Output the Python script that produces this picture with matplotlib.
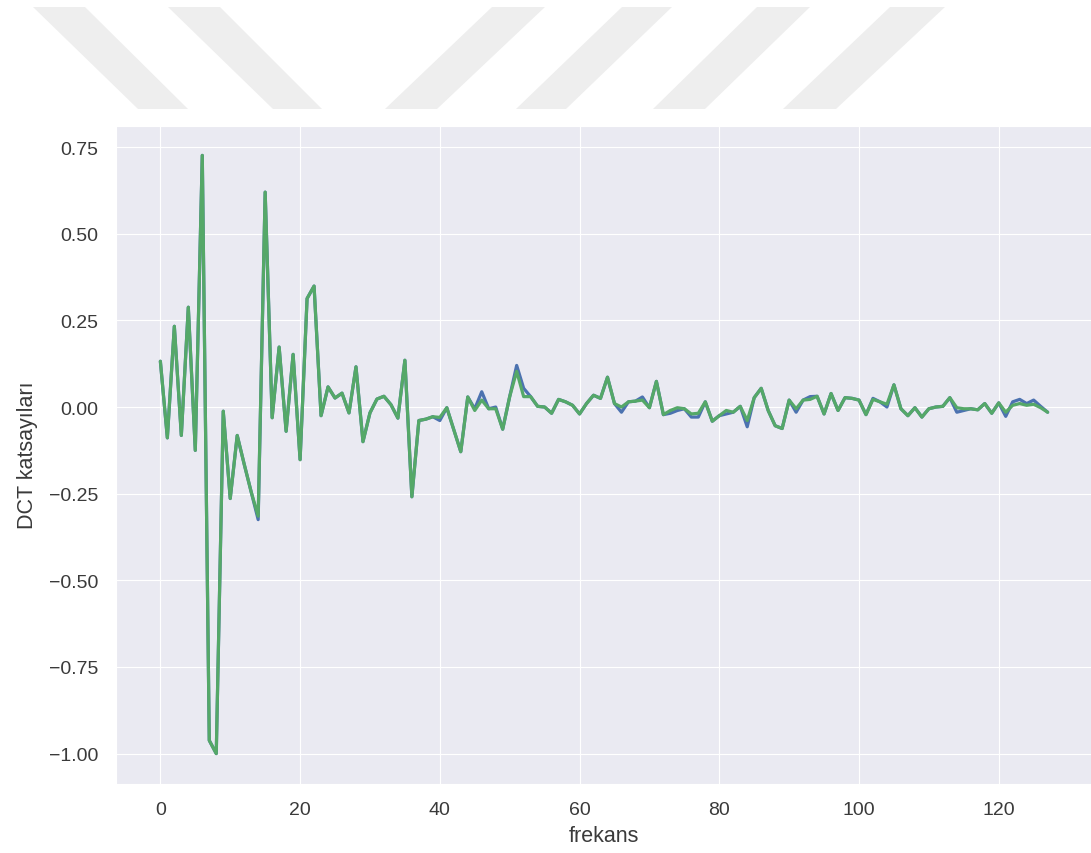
import matplotlib
matplotlib.use('Agg')
import matplotlib.pyplot as plt
import seaborn as sns
from matplotlib.patches import Polygon

# DCT coefficients (two nearly identical series)
frekans = list(range(128))
dct_blue = [
    0.132, -0.089, 0.233, -0.082, 0.288, -0.125, 0.726, -0.962, -1.0, -0.012,
    -0.264, -0.082, -0.165, -0.245, -0.325, 0.62, -0.031, 0.173, -0.07, 0.152,
    -0.152, 0.313, 0.349, -0.025, 0.058, 0.026, 0.04, -0.017, 0.116, -0.1,
    -0.017, 0.023, 0.031, 0.007, -0.032, 0.135, -0.259, -0.039, -0.035, -0.028,
    -0.039, -0.002, -0.066, -0.129, 0.029, -0.005, 0.044, -0.005, 0.0, -0.064,
    0.03, 0.12, 0.054, 0.03, 0.002, 0.0, -0.018, 0.022, 0.015, 0.005,
    -0.02, 0.01, 0.034, 0.025, 0.086, 0.01, -0.015, 0.015, 0.017, 0.029,
    -0.002, 0.074, -0.022, -0.018, -0.01, -0.005, -0.029, -0.029, 0.015, -0.041,
    -0.025, -0.02, -0.015, 0.002, -0.057, 0.027, 0.054, -0.01, -0.054, -0.062,
    0.02, -0.015, 0.02, 0.03, 0.031, -0.02, 0.039, -0.01, 0.027, 0.025,
    0.02, -0.022, 0.025, 0.015, 0.0, 0.064, -0.005, -0.025, -0.002, -0.029,
    -0.005, 0.0, 0.002, 0.027, -0.015, -0.01, -0.005, -0.008, 0.01, -0.018,
    0.012, -0.027, 0.015, 0.022, 0.01, 0.02, 0.002, -0.015,
]
dct_green = [
    0.132, -0.089, 0.233, -0.082, 0.288, -0.125, 0.726, -0.962, -1.0, -0.012,
    -0.264, -0.082, -0.165, -0.245, -0.315, 0.62, -0.031, 0.173, -0.07, 0.152,
    -0.152, 0.313, 0.349, -0.025, 0.058, 0.026, 0.04, -0.017, 0.116, -0.1,
    -0.017, 0.023, 0.031, 0.007, -0.032, 0.135, -0.259, -0.039, -0.035, -0.028,
    -0.03, -0.002, -0.066, -0.129, 0.029, -0.01, 0.02, -0.005, -0.005, -0.064,
    0.03, 0.103, 0.03, 0.03, 0.002, 0.0, -0.018, 0.022, 0.015, 0.005,
    -0.02, 0.01, 0.034, 0.025, 0.086, 0.01, 0.0, 0.015, 0.017, 0.02,
    -0.002, 0.074, -0.022, -0.01, -0.002, -0.005, -0.02, -0.018, 0.015, -0.041,
    -0.025, -0.01, -0.015, 0.002, -0.039, 0.027, 0.054, -0.01, -0.054, -0.062,
    0.02, -0.005, 0.02, 0.022, 0.031, -0.02, 0.039, -0.01, 0.027, 0.025,
    0.02, -0.022, 0.022, 0.015, 0.008, 0.064, -0.005, -0.025, -0.002, -0.029,
    -0.005, 0.0, 0.002, 0.027, -0.002, -0.005, -0.005, -0.008, 0.01, -0.018,
    0.012, -0.015, 0.005, 0.01, 0.005, 0.008, -0.002, -0.015,
]

sns.set_style('darkgrid', {'grid.linewidth': 1.4})
plt.rcParams['font.family'] = ['Liberation Sans', 'DejaVu Sans']

fig = plt.figure(figsize=(10.91, 8.54), dpi=100)

# watermark stripes across the top of the page (pixel coords, y from top)
W, H = 1091.0, 854.0
stripes = [
    [(33, 8), (85, 8), (188, 110), (138, 110)],
    [(168, 8), (220, 8), (322, 110), (273, 110)],
    [(492, 8), (545, 8), (437, 110), (385, 110)],
    [(622, 8), (672, 8), (566, 110), (516, 110)],
    [(757, 8), (810, 8), (705, 110), (653, 110)],
    [(890, 8), (945, 8), (836, 110), (783, 110)],
]
for s in stripes:
    pts = [(x / W, 1 - y / H) for x, y in s]
    fig.patches.append(Polygon(pts, closed=True, transform=fig.transFigure,
                               facecolor='#eeeeee', edgecolor='none'))

ax = fig.add_axes([116 / W, 1 - 784.5 / H, (1092 - 116) / W, (784.5 - 126.5) / H])
ax.plot(frekans, dct_blue, color='#4C72B0', linewidth=2.3)
ax.plot(frekans, dct_green, color='#55A868', linewidth=2.3)

ax.set_xlabel('frekans', fontsize=15.5, color='#3a3a3a', labelpad=5)
ax.set_ylabel('DCT katsayıları', fontsize=15.5, color='#3a3a3a', labelpad=8)
ax.tick_params(labelsize=14, colors='#3a3a3a', pad=9)
ax.set_yticks([0.75, 0.5, 0.25, 0.0, -0.25, -0.5, -0.75, -1.0])
ax.set_xticks([0, 20, 40, 60, 80, 100, 120])

fig.savefig('out.png', dpi=100)
